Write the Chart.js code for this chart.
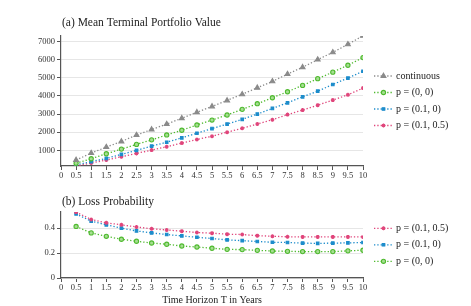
<!DOCTYPE html>
<html>
<head>
<meta charset="utf-8">
<script src="https://cdn.jsdelivr.net/npm/chart.js@4"></script>
<style>
  body { margin: 0; background: #fff; }
  #wrap { position: relative; width: 471px; height: 306px; }
  canvas { position: absolute; left: 0; }
</style>
</head>
<body>
<div id="wrap">
  <canvas id="topChart" width="471" height="186" style="top:0"></canvas>
  <canvas id="lossChart" width="471" height="120" style="top:186px"></canvas>
</div>
<script>
// horizons T (years)
const horizons = [0.5, 1, 1.5, 2, 2.5, 3, 3.5, 4, 4.5, 5, 5.5, 6, 6.5, 7, 7.5, 8, 8.5, 9, 9.5, 10];

// (a) mean terminal portfolio value
const valContinuous = [470, 850, 1180, 1490, 1840, 2150, 2450, 2770, 3100, 3420, 3750, 4090, 4450, 4800, 5200, 5580, 6000, 6400, 6840, 7310];
const valP00 = [290, 540, 815, 1070, 1330, 1580, 1850, 2110, 2400, 2670, 2950, 3260, 3570, 3900, 4230, 4580, 4950, 5310, 5690, 6110];
const valP010 = [200, 380, 560, 780, 1000, 1235, 1450, 1690, 1945, 2200, 2450, 2710, 3000, 3310, 3620, 3950, 4260, 4630, 4980, 5360];
const valP0105 = [140, 305, 470, 650, 835, 1015, 1200, 1400, 1600, 1780, 2000, 2220, 2450, 2690, 2970, 3220, 3490, 3770, 4060, 4430];

// (b) loss probability
const lossP0105 = [0.529, 0.47, 0.443, 0.427, 0.41, 0.395, 0.386, 0.376, 0.365, 0.36, 0.352, 0.349, 0.34, 0.335, 0.331, 0.33, 0.33, 0.33, 0.33, 0.33];
const lossP010 = [0.515, 0.456, 0.427, 0.4, 0.378, 0.362, 0.349, 0.338, 0.327, 0.317, 0.306, 0.3, 0.293, 0.287, 0.285, 0.28, 0.278, 0.28, 0.282, 0.285];
const lossP00 = [0.414, 0.362, 0.335, 0.311, 0.295, 0.281, 0.271, 0.257, 0.249, 0.239, 0.23, 0.228, 0.222, 0.217, 0.214, 0.212, 0.212, 0.212, 0.218, 0.223];

// tick labels
const xTicks = [0, 0.5, 1, 1.5, 2, 2.5, 3, 3.5, 4, 4.5, 5, 5.5, 6, 6.5, 7, 7.5, 8, 8.5, 9, 9.5, 10];
const valueTicks = [1000, 2000, 3000, 4000, 5000, 6000, 7000];
const lossTicks = [0, 0.2, 0.4];

const serif = '"Liberation Serif", "DejaVu Serif", serif';
const GRAY = '#8a8a8a', GREEN = '#4fba2f', BLUE = '#1c8ccb', PINK = '#e0457b';
const AXIS = '#555';

function pts(vals) {
    return vals.map(function (v, i) { return { x: horizons[i], y: v }; });
}

function series(label, vals, color, style, radius, fill) {
    return {
        label: label,
        data: pts(vals),
        borderColor: color,
        backgroundColor: color,
        borderWidth: 1.3,
        borderDash: [1.3, 2],
        pointStyle: style,
        pointRadius: radius,
        pointBorderColor: color,
        pointBackgroundColor: fill || color,
        pointBorderWidth: 1.1,
        tension: 0
    };
}

// title + legend with line sample and marker
const decorPlugin = {
    id: 'decor',
    afterDraw(chart, args, opts) {
        const ctx = chart.ctx;
        const area = chart.chartArea;
        ctx.save();
        ctx.fillStyle = '#222';
        ctx.font = '11.5px ' + serif;
        ctx.textBaseline = 'middle';
        ctx.textAlign = 'left';
        ctx.fillText(opts.title, area.left + 1, opts.titleY);

        ctx.font = '10px ' + serif;
        opts.order.forEach(function (idx, k) {
            const ds = chart.data.datasets[idx];
            const y = opts.legendY + k * 16.5;
            const x0 = area.right + 11;
            ctx.strokeStyle = ds.borderColor;
            ctx.lineWidth = 1.3;
            ctx.setLineDash([1.3, 2]);
            ctx.beginPath();
            ctx.moveTo(x0, y);
            ctx.lineTo(x0 + 19, y);
            ctx.stroke();
            ctx.setLineDash([]);
            ctx.fillStyle = ds.pointBackgroundColor;
            ctx.strokeStyle = ds.pointBorderColor;
            ctx.lineWidth = ds.pointBorderWidth;
            Chart.helpers.drawPoint(ctx, {
                pointStyle: ds.pointStyle,
                radius: ds.pointRadius,
                borderWidth: ds.pointBorderWidth,
                rotation: 0
            }, x0 + 9.5, y);
            ctx.fillStyle = '#222';
            ctx.fillText(ds.label, x0 + 22, y);
        });
        ctx.restore();
    }
};

function xScale(height, withTitle) {
    return {
        type: 'linear',
        min: 0,
        max: 10,
        afterBuildTicks: function (s) { s.ticks = xTicks.map(function (v) { return { value: v }; }); },
        afterFit: function (s) { s.height = height; },
        grid: { drawOnChartArea: false, drawTicks: true, tickLength: 4, tickColor: AXIS, tickWidth: 1 },
        border: { color: AXIS, width: 1.2 },
        ticks: {
            color: '#333', font: { family: serif, size: 8.5 }, padding: 1, maxRotation: 0, autoSkip: false,
            callback: function (v) { return String(v); }
        },
        title: {
            display: withTitle,
            text: 'Time Horizon T in Years',
            color: '#222',
            font: { family: serif, size: 10 },
            padding: { top: 0, bottom: 0 }
        }
    };
}

function yScale(min, max, tickVals) {
    return {
        type: 'linear',
        min: min,
        max: max,
        afterBuildTicks: function (s) { s.ticks = tickVals.map(function (v) { return { value: v }; }); },
        afterFit: function (s) { s.width = 61; },
        grid: { color: '#e6e6e6', lineWidth: 1, drawTicks: true, tickLength: 4, tickColor: AXIS },
        border: { color: AXIS, width: 1.2 },
        ticks: {
            color: '#333', font: { family: serif, size: 8.5 }, padding: 2,
            callback: function (v) { return String(v); }
        }
    };
}

new Chart(document.getElementById('topChart'), {
    type: 'line',
    data: {
        datasets: [
            series('continuous', valContinuous, GRAY, 'triangle', 2.8),
            series('p = (0, 0)', valP00, GREEN, 'circle', 2.1, '#a6de92'),
            series('p = (0.1, 0)', valP010, BLUE, 'rect', 1.8),
            series('p = (0.1, 0.5)', valP0105, PINK, 'star', 2)
        ]
    },
    options: {
        responsive: false,
        animation: false,
        layout: { padding: { left: 0, right: 108, top: 36, bottom: 0 } },
        scales: {
            x: xScale(20, false),
            y: yScale(140, 7300, valueTicks)
        },
        plugins: {
            legend: { display: false },
            tooltip: { enabled: false },
            decor: { title: '(a) Mean Terminal Portfolio Value', titleY: 23, order: [0, 1, 2, 3], legendY: 76 }
        }
    },
    plugins: [decorPlugin]
});

new Chart(document.getElementById('lossChart'), {
    type: 'line',
    data: {
        datasets: [
            series('p = (0.1, 0.5)', lossP0105, PINK, 'star', 2),
            series('p = (0.1, 0)', lossP010, BLUE, 'rect', 1.8),
            series('p = (0, 0)', lossP00, GREEN, 'circle', 2.1, '#a6de92')
        ]
    },
    options: {
        responsive: false,
        animation: false,
        layout: { padding: { left: 0, right: 108, top: 26, bottom: 0 } },
        scales: {
            x: xScale(28, true),
            y: yScale(0, 0.53, lossTicks)
        },
        plugins: {
            legend: { display: false },
            tooltip: { enabled: false },
            decor: { title: '(b) Loss Probability', titleY: 16, order: [0, 1, 2], legendY: 42.3 }
        }
    },
    plugins: [decorPlugin]
});
</script>
</body>
</html>
